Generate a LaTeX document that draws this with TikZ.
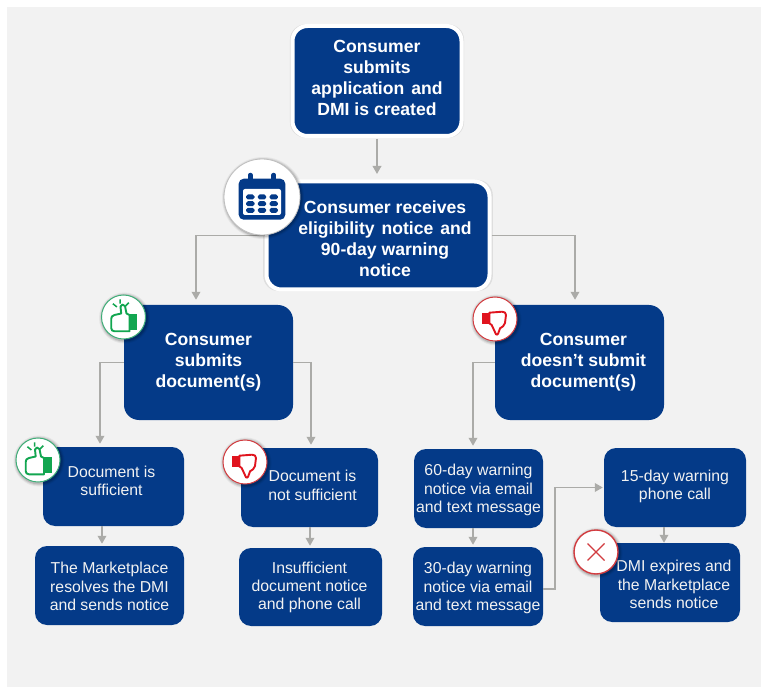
\documentclass[tikz,border=0pt]{standalone}
\usepackage{fontspec}
\setmainfont{Liberation Sans}
\usetikzlibrary{arrows.meta,shadows}
\definecolor{navy}{HTML}{043A88}
\definecolor{pagegray}{HTML}{F2F2F2}
\definecolor{linegray}{HTML}{ABABA8}
\definecolor{okgreen}{HTML}{12A650}
\definecolor{okring}{HTML}{3FAE78}
\definecolor{badred}{HTML}{E0141E}
\definecolor{badring}{HTML}{D23C40}
\tikzset{
  x=1pt,y=-1pt,
  bigbox/.style={fill=navy,rounded corners=15pt,inner sep=0pt},
  smallbox/.style={fill=navy,rounded corners=12pt,inner sep=0pt},
  bigtext/.style={inner sep=0pt,align=center,text=white,
    font=\bfseries\fontsize{17.6}{21}\selectfont},
  smalltext/.style={inner sep=0pt,align=center,text=pagegray,
    font=\fontsize{15.8}{18.4}\selectfont},
  framed/.style={draw=white,line width=4pt,
    drop shadow={shadow xshift=0pt,shadow yshift=0pt,shadow scale=1.03,opacity=.14,fill=black!60}},
  arr/.style={draw=linegray,line width=1.9pt,-{Triangle[length=8pt,width=8.5pt]}},
  halo/.pic={
    \foreach \r/\o in {25.5/.05,24.5/.08,23.5/.12}{\fill[black,opacity=\o] (1,1) circle[radius=\r pt];}
  },
  thumbup/.pic={
    \pic{halo};
    \draw[okring,fill=white,line width=1pt] (0,0) circle[radius=22pt];
    \fill[okgreen] (6,-2.7) rectangle (13.7,13.3);
    \draw[okgreen,line width=1.9pt,line join=round,fill=white]
      (6,-2) -- (3,-3.5) -- (1.5,-11) .. controls (0.5,-13) and (-3,-13) .. (-3,-10.5)
      -- (-2.3,-3.5) -- (-9,-2) .. controls (-11.5,-1.5) and (-12.3,0) .. (-12.3,2)
      -- (-12.3,11) .. controls (-12.3,13) and (-11,14.3) .. (-9,14.3) -- (6,14.3) -- cycle;
    \draw[okgreen,line width=1.5pt]
      (-10.6,-13.3) -- (-6.6,-10) (-3.3,-17.7) -- (-3.3,-13.3) (5.3,-14.3) -- (2,-11);
  },
  thumbdown/.pic={
    \pic{halo};
    \draw[badring,fill=white,line width=1pt] (0,0) circle[radius=22pt];
    \fill[badred] (-13.3,-5.7) rectangle (-5.7,5);
    \draw[badred,line width=1.9pt,line join=round,fill=white]
      (-5.7,-6.3) -- (7,-7.3) .. controls (9.5,-7.5) and (11,-6) .. (11,-4)
      -- (10,4) .. controls (9.5,6.5) and (7,8.5) .. (5,9.3)
      -- (3.3,14.3) .. controls (3,15.8) and (1.5,16) .. (1,15.3)
      -- (-3.3,6) -- (-5.7,4.3) -- cycle;
  },
  calendar/.pic={
    \foreach \r/\o in {41/.05,40/.08,39/.12}{\fill[black,opacity=\o] (1,1) circle[radius=\r pt];}
    \draw[black!25,fill=white,line width=.8pt] (0,0) circle[radius=38pt];
    \fill[navy,rounded corners=5pt] (-23.3,-18.3) rectangle (23.3,22.7);
    \fill[white,rounded corners=2pt] (-19,-8) rectangle (19,18);
    \foreach \cx in {-11.7,11.7}{
      \draw[navy,line width=4.5pt,line cap=round] (\cx,-22) -- (\cx,-14);
    }
    \foreach \cx in {-11.7,0,11.7}\foreach \cy in {0,6.7,13.3}{
      \fill[navy,rounded corners=1.8pt] (\cx-4.2,\cy-2.5) rectangle (\cx+4.2,\cy+2.5);
    }
  },
  crossmark/.pic={
    \pic{halo};
    \draw[badring,fill=white,line width=1.4pt] (0,0) circle[radius=22pt];
    \draw[badring,line width=1.2pt] (-8.5,-8.5) -- (8.5,8.5) (-8.5,8.5) -- (8.5,-8.5);
  }
}
\begin{document}
\begin{tikzpicture}
\useasboundingbox (0,0) rectangle (761,687);
\fill[white] (0,0) rectangle (761,687);
\fill[pagegray] (7,7) rectangle (761,687);

\node[bigbox,framed,minimum width=169,minimum height=110] (top) at (377,81) {};
\node[bigtext] (toptext) at ([yshift=3.5pt]top.center)
  {Consumer\\submits\\application\hspace{2pt} and\\DMI is created};
\node[bigbox,framed,minimum width=223,minimum height=108] (notice) at (378,235.5) {};
\node[bigtext] (noticetext) at ([xshift=7pt,yshift=-3pt]notice.center)
  {Consumer receives\\eligibility\hspace{2pt} notice\hspace{2pt} and\\90-day warning\\notice};
\node[bigbox,minimum width=169,minimum height=115] (submit) at (208.5,362.5) {};
\node[bigtext] (submittext) at (submit.center)
  {Consumer\\submits\\document(s)};
\node[bigbox,minimum width=169,minimum height=115] (notsubmit) at (579.5,362.5) {};
\node[bigtext] (notsubmittext) at ([xshift=4pt]notsubmit.center)
  {Consumer\\doesn’t submit\\document(s)};
\node[smallbox,minimum width=141,minimum height=79] (suff) at (113.5,486.5) {};
\node[smalltext] (sufftext) at ([xshift=-2pt,yshift=5.5pt]suff.center)
  {Document is\\sufficient};
\node[smallbox,minimum width=137,minimum height=79] (notsuff) at (309.5,487.5) {};
\node[smalltext] (notsufftext) at ([xshift=3pt,yshift=2pt]notsuff.center)
  {Document is\\not sufficient};
\node[smallbox,minimum width=149,minimum height=79] (resolve) at (109.5,585.5) {};
\node[smalltext] (resolvetext) at ([yshift=-1pt]resolve.center)
  {The Marketplace\\resolves the DMI\\and sends notice};
\node[smallbox,minimum width=143,minimum height=78] (insuff) at (310.5,587) {};
\node[smalltext] (insufftext) at ([xshift=-1pt,yshift=-.5pt]insuff.center)
  {Insufficient\\document notice\\and phone call};
\node[smallbox,minimum width=129,minimum height=79] (d60) at (478.5,488.5) {};
\node[smalltext] (dsixtytext) at ([yshift=-1.5pt]d60.center)
  {60-day warning\\notice via email\\and text message};
\node[smallbox,minimum width=130,minimum height=79] (d30) at (478,586.5) {};
\node[smalltext] (dthirtytext) at ([yshift=-1.5pt]d30.center)
  {30-day warning\\notice via email\\and text message};
\node[smallbox,minimum width=142,minimum height=79] (d15) at (675,487.5) {};
\node[smalltext] (dfifteentext) at ([yshift=1pt]d15.center)
  {15-day warning\\phone call};
\node[smallbox,minimum width=140,minimum height=79] (expire) at (670,582.5) {};
\node[smalltext] (expiretext) at ([xshift=4pt,yshift=-2pt]expire.center)
  {DMI expires and\\the Marketplace\\sends notice};

\draw[arr,shorten >=5.5pt,shorten <=1pt] (top.south) -- ([xshift=-1pt]notice.north);
\draw[arr,shorten >=5pt] (notice.west) -| ([xshift=-12.5pt]submit.north);
\draw[arr,shorten >=5pt] (notice.east) -| ([xshift=-4.5pt]notsubmit.north);
\draw[arr,shorten >=3pt] (submit.west) -| ([xshift=-13.5pt]suff.north);
\draw[arr,shorten >=3pt] (submit.east) -| ([xshift=1.5pt]notsuff.north);
\draw[arr,shorten >=3pt] (notsubmit.west) -| ([xshift=-5.5pt]d60.north);
\draw[arr,shorten >=2pt] ([xshift=-11.5pt]suff.south) -- ([xshift=-7.5pt]resolve.north);
\draw[arr,shorten >=2pt] ([xshift=.5pt]notsuff.south) -- ([xshift=-.5pt]insuff.north);
\draw[arr,shorten >=2pt] ([xshift=-5.5pt]d60.south) -- ([xshift=-5pt]d30.north);
\draw[arr] ([xshift=-11pt]d15.south) -- ([xshift=-6pt]expire.north);
\draw[arr,shorten >=1pt] ([yshift=-2.5pt]d30.east) -- ++(11.5,0) |- (d15.west);

\pic at (262,197) {calendar};
\pic at (123.5,317) {thumbup};
\pic at (38,460) {thumbup};
\pic at (245,462) {thumbdown};
\pic at (495,319) {thumbdown};
\pic at (596,552) {crossmark};
\end{tikzpicture}
\end{document}
